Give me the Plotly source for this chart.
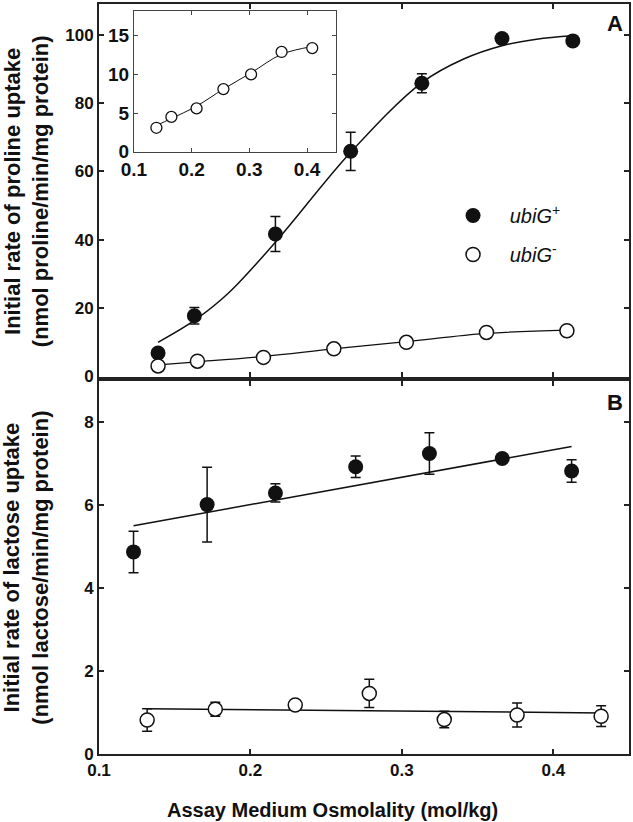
import plotly.graph_objects as go

# ---------------- Panel A : proline uptake ----------------
x_prol_plus = [0.139, 0.163, 0.2165, 0.2662, 0.3132, 0.3661, 0.4129]
y_prol_plus = [6.9, 17.8, 41.7, 65.9, 85.8, 98.9, 98.2]
e_prol_plus = [0, 2.4, 5.1, 5.6, 2.8, 0, 0]

x_prol_minus = [0.139, 0.165, 0.2086, 0.2551, 0.303, 0.3559, 0.409]
y_prol_minus = [3.1, 4.5, 5.6, 8.1, 10.0, 12.9, 13.4]

fit_prol_plus_x = [0.139, 0.163, 0.185, 0.2165, 0.2662, 0.3132, 0.3408, 0.3661, 0.389, 0.4129]
fit_prol_plus_y = [10.0, 16.4, 24.2, 39.3, 65.6, 86.0, 92.9, 96.8, 98.7, 99.7]
fit_prol_minus_y = [3.4, 4.3, 5.9, 8.1, 10.2, 12.6, 13.6]

# ---------------- Panel B : lactose uptake ----------------
x_lac_plus = [0.1228, 0.1714, 0.2165, 0.2695, 0.3182, 0.3663, 0.4121]
y_lac_plus = [4.87, 6.01, 6.29, 6.92, 7.24, 7.12, 6.82]
e_lac_plus = [0.5, 0.9, 0.22, 0.26, 0.5, 0, 0.27]
fit_lac_plus_x = [0.1228, 0.4121]
fit_lac_plus_y = [5.50, 7.41]

x_lac_minus = [0.1318, 0.1768, 0.2296, 0.2785, 0.328, 0.3761, 0.4316]
y_lac_minus = [0.82, 1.08, 1.18, 1.46, 0.83, 0.94, 0.91]
e_lac_minus = [0.27, 0.17, 0, 0.34, 0.2, 0.29, 0.25]
fit_lac_minus_x = [0.1318, 0.4316]
fit_lac_minus_y = [1.09, 0.99]

# ---------------- ticks / labels ----------------
x_ticks = [0.1, 0.2, 0.3, 0.4]
y_ticks_a = [0, 20, 40, 60, 80, 100]
y_ticks_b = [0, 2, 4, 6, 8]
y_ticks_inset = [0, 5, 10, 15]
name_plus = "&nbsp;&nbsp;&nbsp;<i>ubiG</i><sup>+</sup>"
name_minus = "&nbsp;&nbsp;&nbsp;<i>ubiG</i><sup>-</sup>"

FONT = "Liberation Sans, Arial, sans-serif"
BLACK = "#111111"

fig = go.Figure()

err_style = dict(type="data", visible=True, color=BLACK, thickness=1.5, width=5)

# Panel A
fig.add_trace(go.Scatter(x=fit_prol_plus_x, y=fit_prol_plus_y, mode="lines",
                         line=dict(color=BLACK, width=1.5, shape="spline"),
                         xaxis="x", yaxis="y", showlegend=False, hoverinfo="skip"))
fig.add_trace(go.Scatter(x=x_prol_minus, y=fit_prol_minus_y, mode="lines",
                         line=dict(color=BLACK, width=1.3, shape="spline"),
                         xaxis="x", yaxis="y", showlegend=False, hoverinfo="skip"))
fig.add_trace(go.Scatter(x=x_prol_plus, y=y_prol_plus, mode="markers", name=name_plus,
                         error_y=dict(array=e_prol_plus, **err_style),
                         marker=dict(symbol="circle", size=15, color=BLACK),
                         xaxis="x", yaxis="y", legendgroup="p"))
fig.add_trace(go.Scatter(x=x_prol_minus, y=y_prol_minus, mode="markers", name=name_minus,
                         marker=dict(symbol="circle", size=14, color="white",
                                     line=dict(color=BLACK, width=1.5)),
                         xaxis="x", yaxis="y", legendgroup="m"))

# Inset
fig.add_trace(go.Scatter(x=x_prol_minus, y=fit_prol_minus_y, mode="lines",
                         line=dict(color=BLACK, width=1, shape="spline"),
                         xaxis="x3", yaxis="y3", showlegend=False, hoverinfo="skip"))
fig.add_trace(go.Scatter(x=x_prol_minus, y=y_prol_minus, mode="markers",
                         marker=dict(symbol="circle", size=11, color="white",
                                     line=dict(color=BLACK, width=1.3)),
                         xaxis="x3", yaxis="y3", showlegend=False))

# Panel B
fig.add_trace(go.Scatter(x=fit_lac_plus_x, y=fit_lac_plus_y, mode="lines",
                         line=dict(color=BLACK, width=1.5),
                         xaxis="x2", yaxis="y2", showlegend=False, hoverinfo="skip"))
fig.add_trace(go.Scatter(x=fit_lac_minus_x, y=fit_lac_minus_y, mode="lines",
                         line=dict(color=BLACK, width=1.5),
                         xaxis="x2", yaxis="y2", showlegend=False, hoverinfo="skip"))
fig.add_trace(go.Scatter(x=x_lac_plus, y=y_lac_plus, mode="markers",
                         error_y=dict(array=e_lac_plus, **err_style),
                         marker=dict(symbol="circle", size=15, color=BLACK),
                         xaxis="x2", yaxis="y2", showlegend=False))
fig.add_trace(go.Scatter(x=x_lac_minus, y=y_lac_minus, mode="markers",
                         error_y=dict(array=e_lac_minus, **err_style),
                         marker=dict(symbol="circle", size=14, color="white",
                                     line=dict(color=BLACK, width=1.5)),
                         xaxis="x2", yaxis="y2", showlegend=False))

axis_common = dict(showline=True, linewidth=2, linecolor="#222222", mirror="ticks",
                   ticks="inside", ticklen=5, tickwidth=1.5, tickcolor="#222222",
                   showgrid=False, zeroline=False,
                   tickfont=dict(family=FONT, size=17, color=BLACK, weight="bold"))
inset_common = dict(showline=True, linewidth=1, linecolor="#444444", mirror="ticks",
                    ticks="inside", ticklen=4, tickwidth=1, tickcolor="#444444",
                    showgrid=False, zeroline=False,
                    tickfont=dict(family=FONT, size=19, color=BLACK, weight="bold"))

fig.update_layout(
    width=633, height=822,
    margin=dict(l=99, r=2, t=3, b=68),
    plot_bgcolor="white", paper_bgcolor="white",
    xaxis=dict(domain=[0, 1], anchor="y", range=[0.1, 0.45], tickvals=x_ticks,
               showticklabels=False, **axis_common),
    yaxis=dict(domain=[0.5033, 1], anchor="x", range=[0, 109], tickvals=y_ticks_a,
               **axis_common),
    xaxis2=dict(domain=[0, 1], anchor="y2", range=[0.1, 0.45], tickvals=x_ticks,
                tickformat=".1f", **axis_common),
    yaxis2=dict(domain=[0, 0.498], anchor="x2", range=[0, 9], tickvals=y_ticks_b,
                **axis_common),
    xaxis3=dict(domain=[0.0658, 0.447], anchor="y3", range=[0.1, 0.45], tickvals=x_ticks,
                tickformat=".1f", **inset_common),
    yaxis3=dict(domain=[0.803, 0.9907], anchor="x3", range=[0, 18.2], tickvals=y_ticks_inset,
                **inset_common),
    showlegend=True,
    legend=dict(x=0.668, y=0.744, xanchor="left", yanchor="top", bgcolor="rgba(0,0,0,0)",
                font=dict(family=FONT, size=20, color=BLACK), tracegroupgap=10,
                itemsizing="trace"),
    font=dict(family=FONT, color=BLACK),
)

ann_font_title = dict(family=FONT, size=20, color=BLACK, weight="bold")
fig.add_annotation(text="Assay Medium Osmolality (mol/kg)", xref="paper", yref="paper",
                   x=0.4398, y=-0.0745, xanchor="center", yanchor="middle",
                   showarrow=False, font=ann_font_title)
fig.add_annotation(text="Initial rate of proline uptake<br>(nmol proline/min/mg protein)",
                   xref="paper", yref="paper", x=-0.137, y=0.751, textangle=-90,
                   xanchor="center", yanchor="middle", showarrow=False,
                   font=dict(family=FONT, size=22, color=BLACK, weight="bold"))
fig.add_annotation(text="Initial rate of lactose uptake<br>(nmol lactose/min/mg protein)",
                   xref="paper", yref="paper", x=-0.137, y=0.249, textangle=-90,
                   xanchor="center", yanchor="middle", showarrow=False,
                   font=dict(family=FONT, size=22, color=BLACK, weight="bold"))
fig.add_annotation(text="A", xref="paper", yref="paper", x=0.9737, y=0.9734,
                   xanchor="center", yanchor="middle", showarrow=False,
                   font=dict(family=FONT, size=22, color=BLACK, weight="bold"))
fig.add_annotation(text="B", xref="paper", yref="paper", x=0.9737, y=0.4687,
                   xanchor="center", yanchor="middle", showarrow=False,
                   font=dict(family=FONT, size=22, color=BLACK, weight="bold"))

fig.write_html("out.html", config={"displayModeBar": False},
               post_script="document.body.style.margin='0px';document.body.style.overflow='hidden';")
